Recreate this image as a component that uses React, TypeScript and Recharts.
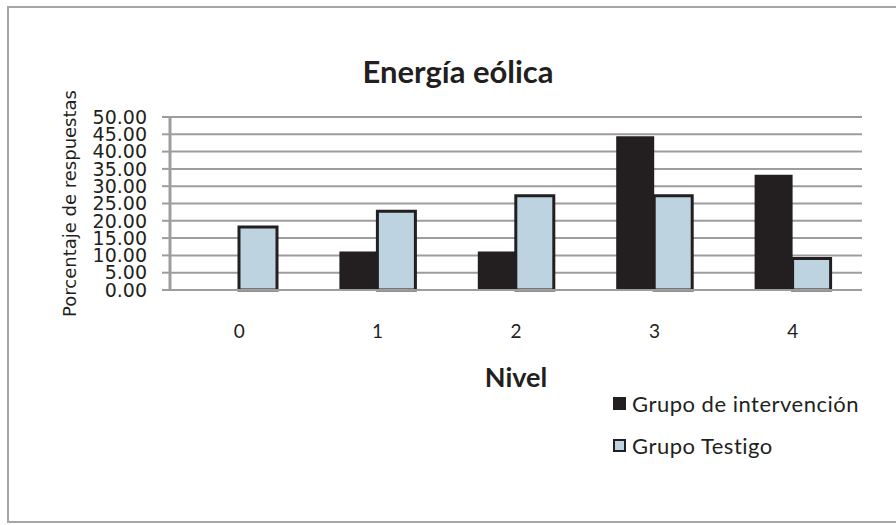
import { BarChart, Bar, XAxis, YAxis, CartesianGrid, Legend, Label } from "recharts"

const niveles = ["0", "1", "2", "3", "4"]
const intervencion = [0, 11.11, 11.11, 44.44, 33.33]
const testigo = [18.18, 22.73, 27.27, 27.27, 9.09]
const yTicks = [0, 5, 10, 15, 20, 25, 30, 35, 40, 45, 50]

const data = niveles.map((nivel, i) => ({
  nivel,
  intervencion: intervencion[i],
  testigo: testigo[i],
}))

const DARK = "#231f20"
const BLUE = "#bed3e0"
const GRID = "#9d9d9d"

function LegendBox() {
  const items = [
    { label: "Grupo de intervención", fill: DARK },
    { label: "Grupo Testigo", fill: BLUE },
  ]
  return (
    <div style={{ fontFamily: "Lato, sans-serif", fontSize: 22, letterSpacing: 0.5, color: DARK }}>
      {items.map((it) => (
        <div key={it.label} style={{ display: "flex", alignItems: "center", height: 42 }}>
          <span
            style={{
              width: 9,
              height: 9,
              background: it.fill,
              border: `2px solid ${DARK}`,
              marginRight: 6,
              flex: "none",
            }}
          />
          <span>{it.label}</span>
        </div>
      ))}
    </div>
  )
}

export default function App() {
  return (
    <div
      style={{
        position: "absolute",
        left: 0,
        top: 0,
        width: 896,
        height: 525,
        background: "#fff",
        overflow: "hidden",
      }}
    >
      {/* marco */}
      <div
        style={{
          position: "absolute",
          left: 7,
          top: 6,
          width: 920,
          height: 513,
          border: "2px solid #a6a6a6",
        }}
      />
      <BarChart
        width={896}
        height={525}
        data={data}
        margin={{ top: 117, right: 34, left: 70, bottom: 123 }}
        barGap={0}
        style={{ position: "absolute", left: 0, top: 0 }}
      >
        <CartesianGrid horizontal vertical={false} stroke={GRID} strokeWidth={2} />
        <XAxis
          dataKey="nivel"
          height={112}
          axisLine={{ stroke: GRID, strokeWidth: 2 }}
          tickLine={false}
          tickMargin={29}
          tick={{ fontFamily: "Lato, sans-serif", fontSize: 19, fill: DARK }}
        >
          <Label
            value="Nivel"
            position="insideBottom"
            offset={15}
            style={{ fontFamily: "Lato, sans-serif", fontWeight: 700, fontSize: 27, fill: DARK }}
          />
        </XAxis>
        <YAxis
          width={100}
          domain={[0, 50]}
          ticks={yTicks}
          interval={0}
          tickFormatter={(v: number) => v.toFixed(2)}
          axisLine={{ stroke: GRID, strokeWidth: 3 }}
          tickLine={{ stroke: GRID, strokeWidth: 2 }}
          tickSize={8}
          tickMargin={15}
          tick={{ fontFamily: "DejaVu Sans, sans-serif", fontSize: 19, fill: DARK }}
        >
          <Label
            value="Porcentaje de respuestas"
            angle={-90}
            position="insideLeft"
            offset={0}
            style={{ fontFamily: "DejaVu Sans, sans-serif", fontSize: 18, fill: DARK, textAnchor: "middle" }}
          />
        </YAxis>
        <Legend
          layout="vertical"
          align="center"
          verticalAlign="middle"
          content={() => <LegendBox />}
          wrapperStyle={{ position: "absolute", left: 613, top: 382, width: 283 }}
        />
        <Bar dataKey="intervencion" name="Grupo de intervención" fill={DARK} barSize={38} isAnimationActive={false} />
        <Bar
          dataKey="testigo"
          name="Grupo Testigo"
          fill={BLUE}
          stroke={DARK}
          strokeWidth={3}
          barSize={38}
          isAnimationActive={false}
        />
      </BarChart>
      <svg
        width={896}
        height={525}
        style={{ position: "absolute", left: 0, top: 0, pointerEvents: "none" }}
      >
        <text
          x={458}
          y={83}
          textAnchor="middle"
          fontFamily="Lato, sans-serif"
          fontWeight={700}
          fontSize={31}
          fill={DARK}
        >
          Energía eólica
        </text>
      </svg>
    </div>
  )
}
